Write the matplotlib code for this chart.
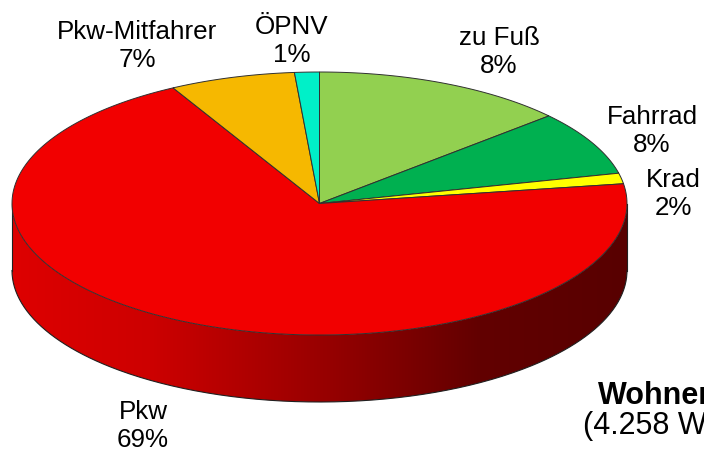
import numpy as np
import matplotlib
matplotlib.use("Agg")
import matplotlib.pyplot as plt
from matplotlib.patches import Polygon

# Wegezweck Wohnen - Verkehrsmittelwahl
modes = ["zu Fuß", "Fahrrad", "Krad", "Pkw", "Pkw-Mitfahrer", "ÖPNV"]
shares = [13.4, 7.9, 1.3, 69.5, 6.6, 1.3]          # slice sizes as drawn
pct_labels = ["8%", "8%", "2%", "69%", "7%", "1%"]  # labels as printed
colors = ["#92D050", "#00B050", "#FFFF00", "#F20000", "#F6B800", "#00F0C8"]
title_lines = ["Wohnen", "(4.258 Wege)"]

plt.rcParams['font.family'] = ['Liberation Sans', 'DejaVu Sans']

fig = plt.figure(figsize=(7.04, 4.52), dpi=100)
ax = fig.add_axes([0, 0, 1, 1])
ax.set_xlim(0, 704)
ax.set_ylim(452, 0)
ax.axis('off')

# pie geometry (pixels)
cx, cy, rx, ry, depth = 319.5, 204.5, 307.5, 131.5, 67


def pt(theta, dy=0.0):
    return cx + rx * np.cos(theta), cy - ry * np.sin(theta) + dy


def shade(color, x):
    # darker towards the right, like the excel 3d lighting
    f = np.interp(x, [12, 150, 330, 480, 627], [222, 205, 150, 98, 88]) / 242.0
    rgb = np.array(matplotlib.colors.to_rgb(color))
    return np.outer(np.atleast_1d(f), rgb)


bounds = 90 - 360 * np.cumsum([0] + shares) / sum(shares)

# side walls: gradient image clipped to the visible part of each slice
for i, col in enumerate(colors):
    t = np.radians(np.linspace(bounds[i], bounds[i + 1], 600))
    t = t[np.sin(t) <= 1e-9]
    if len(t) < 2:
        continue
    xs, ys = pt(t)
    poly = Polygon(np.c_[np.r_[xs, xs[::-1]], np.r_[ys, ys[::-1] + depth]],
                   closed=True, fc='none', ec='none')
    ax.add_patch(poly)
    gx = np.linspace(cx - rx, cx + rx, 400)
    img = shade(col, gx)[None, :, :]
    im = ax.imshow(img, extent=[cx - rx, cx + rx, cy + depth + ry, cy],
                   aspect='auto', interpolation='bilinear', zorder=1)
    im.set_clip_path(poly)

ax.set_xlim(0, 704)
ax.set_ylim(452, 0)

tb = np.radians(np.linspace(180, 360, 300))
bx, by = pt(tb, depth)
ax.plot(bx, by, color="#202020", lw=0.8, zorder=2)
for a in (np.pi, 2 * np.pi):
    x0, y0 = pt(a)
    ax.plot([x0, x0], [y0, y0 + depth], color="#202020", lw=0.8, zorder=2)

# top face
for i, col in enumerate(colors):
    t = np.radians(np.linspace(bounds[i], bounds[i + 1], 200))
    xs, ys = pt(t)
    ax.fill(np.r_[cx, xs], np.r_[cy, ys], fc=col, ec="#303030", lw=0.7, zorder=3)

# labels: centre x, baseline of the percentage line
label_pos = [(499, 73), (652, 152), (673, 215), (143, 447), (137, 67), (292, 62)]
for name, pct, (lx, ly) in zip(modes, pct_labels, label_pos):
    ax.text(lx, ly, name + "\n" + pct, ha='center', va='baseline',
            multialignment='center', fontsize=18.7, color='black')

ax.text(598, 404, title_lines[0], fontsize=22, fontweight='bold', va='baseline')
ax.text(583, 434, title_lines[1], fontsize=22, va='baseline')

fig.savefig("out.png", dpi=100)
